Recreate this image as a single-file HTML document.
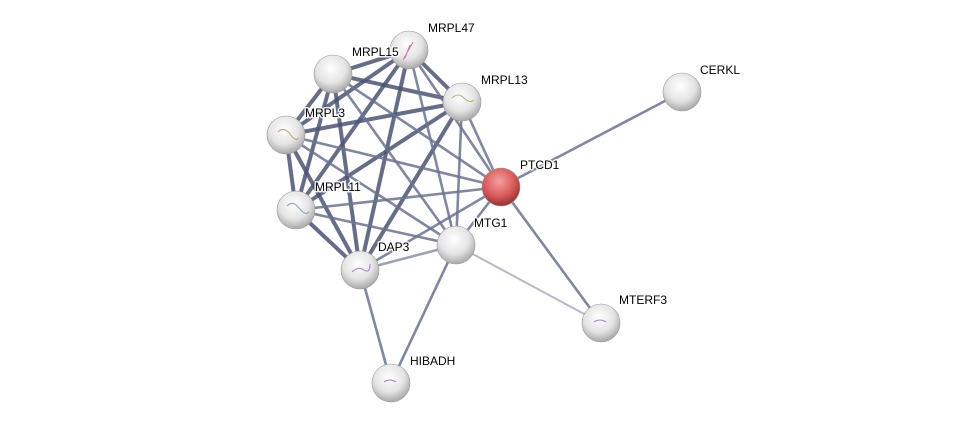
<!DOCTYPE html>
<html><head><meta charset="utf-8"><style>
html,body{margin:0;padding:0;background:#fff;width:976px;height:428px;overflow:hidden}
text{font-family:"Liberation Sans",sans-serif;font-size:12px;fill:#000;stroke:#fff;stroke-width:3px;stroke-opacity:0.85;paint-order:stroke;stroke-linejoin:round}
</style></head><body>
<svg width="976" height="428" viewBox="0 0 976 428" xmlns="http://www.w3.org/2000/svg">
<defs>
<radialGradient id="g" cx="45%" cy="35%" r="65%">
<stop offset="0" stop-color="#ffffff"/><stop offset="0.6" stop-color="#e4e4e4"/><stop offset="1" stop-color="#a8a8a8"/>
</radialGradient>
<radialGradient id="r" cx="45%" cy="35%" r="65%">
<stop offset="0" stop-color="#f4a0a0"/><stop offset="0.6" stop-color="#d95c5c"/><stop offset="1" stop-color="#9a3030"/>
</radialGradient>
</defs>
<g stroke="#4b5474" stroke-opacity="0.85" stroke-linecap="round">
<g stroke-width="4">
<line x1="409" y1="50" x2="333" y2="74"/><line x1="409" y1="50" x2="462" y2="102"/>
<line x1="409" y1="50" x2="286" y2="135"/><line x1="409" y1="50" x2="296" y2="210"/>
<line x1="409" y1="50" x2="360" y2="270"/><line x1="333" y1="74" x2="462" y2="102"/>
<line x1="333" y1="74" x2="286" y2="135"/><line x1="333" y1="74" x2="296" y2="210"/>
<line x1="333" y1="74" x2="360" y2="270"/><line x1="462" y1="102" x2="286" y2="135"/>
<line x1="462" y1="102" x2="296" y2="210"/><line x1="462" y1="102" x2="360" y2="270"/>
<line x1="286" y1="135" x2="296" y2="210"/><line x1="286" y1="135" x2="360" y2="270"/>
<line x1="296" y1="210" x2="360" y2="270"/>
</g>
<g stroke-width="2.6" stroke="#6a7290">
<line x1="501" y1="187" x2="409" y2="50"/><line x1="501" y1="187" x2="462" y2="102"/>
<line x1="501" y1="187" x2="333" y2="74"/><line x1="501" y1="187" x2="286" y2="135"/>
<line x1="501" y1="187" x2="296" y2="210"/><line x1="501" y1="187" x2="360" y2="270"/>
<line x1="501" y1="187" x2="456" y2="245"/><line x1="501" y1="187" x2="682" y2="92"/>
<line x1="501" y1="187" x2="601" y2="323"/>
<line x1="456" y1="245" x2="333" y2="74"/><line x1="456" y1="245" x2="286" y2="135"/>
<line x1="456" y1="245" x2="296" y2="210"/><line x1="456" y1="245" x2="462" y2="102"/>
<line x1="456" y1="245" x2="409" y2="50"/>
<line x1="456" y1="245" x2="391" y2="383"/><line x1="360" y1="270" x2="391" y2="383"/>
</g>
<line x1="456" y1="245" x2="360" y2="270" stroke="#8890aa" stroke-width="2.5"/>
<line x1="456" y1="245" x2="601" y2="323" stroke="#a8adc0" stroke-width="2"/>
</g>
<g stroke="#999" stroke-width="0.6">
<circle cx="409" cy="50" r="19" fill="url(#g)"/>
<circle cx="333" cy="74" r="19" fill="url(#g)"/>
<circle cx="462" cy="102" r="19" fill="url(#g)"/>
<circle cx="286" cy="135" r="19" fill="url(#g)"/>
<circle cx="682" cy="92" r="19" fill="url(#g)"/>
<circle cx="296" cy="210" r="19" fill="url(#g)"/>
<circle cx="456" cy="245" r="19" fill="url(#g)"/>
<circle cx="360" cy="270" r="19" fill="url(#g)"/>
<circle cx="601" cy="323" r="19" fill="url(#g)"/>
<circle cx="391" cy="383" r="19" fill="url(#g)"/>
<circle cx="501" cy="187" r="19" fill="url(#r)"/>
</g>
<g fill="none" stroke-width="1">
<path d="M403 60 L413 42 M410 45 L405 58" stroke="#d070a0"/>
<path d="M452 98 q6 -6 12 0 t10 2" stroke="#b8b070"/>
<path d="M278 132 q6 -6 12 2 t8 4" stroke="#b8a070"/>
<path d="M287 206 q6 -6 12 2 t10 4" stroke="#70a8b8"/>
<path d="M352 272 q6 -6 12 -2 t6 -6" stroke="#a080c8"/>
<path d="M594 322 q6 -4 12 0" stroke="#a080c8"/>
<path d="M384 382 q6 -4 12 0" stroke="#a080c8"/>
</g>
<text x="428" y="32">MRPL47</text>
<text x="352" y="56">MRPL15</text>
<text x="481" y="84">MRPL13</text>
<text x="305" y="117">MRPL3</text>
<text x="700" y="74">CERKL</text>
<text x="520" y="169">PTCD1</text>
<text x="315" y="191">MRPL11</text>
<text x="474" y="227">MTG1</text>
<text x="378" y="251">DAP3</text>
<text x="619" y="304">MTERF3</text>
<text x="410" y="365">HIBADH</text>
</svg>
</body></html>
